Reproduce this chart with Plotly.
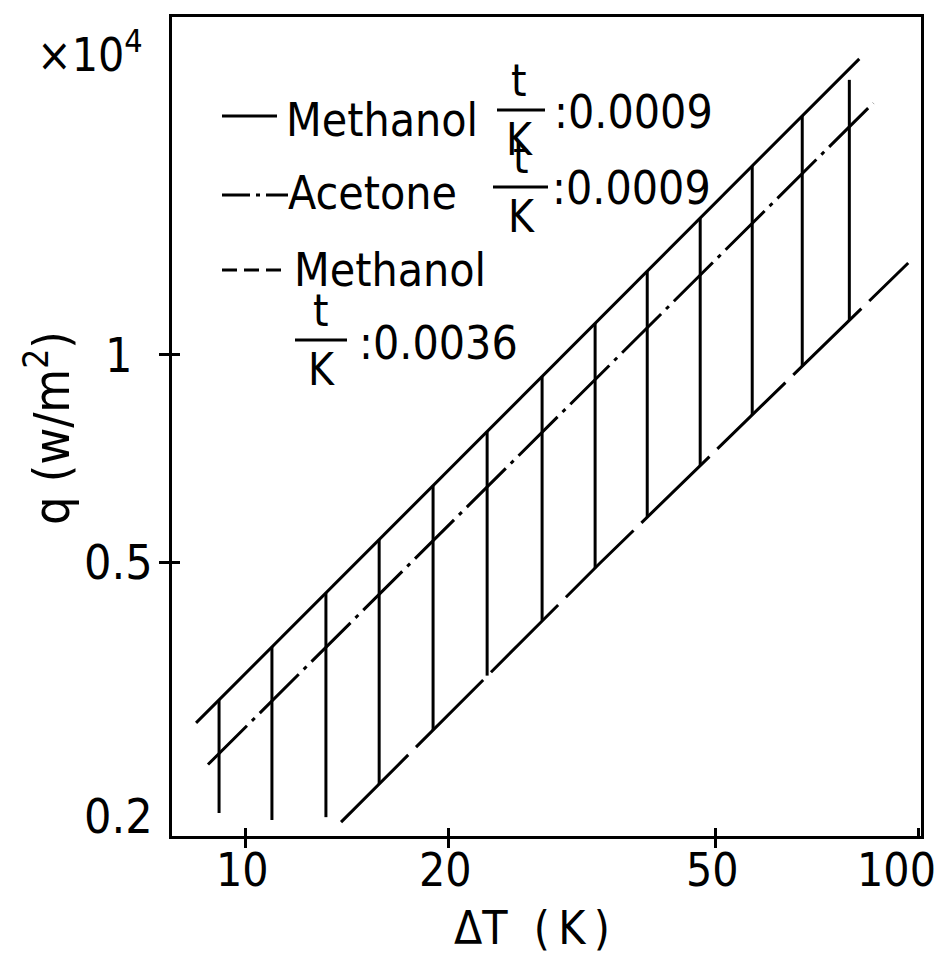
import math
import plotly.graph_objects as go

# Boiling curves, q (x10^4 W/m^2) against wall superheat dT (K)
methanol_thin_dT = [8.43, 81.7]          # Methanol, t/K = 0.0009
methanol_thin_q = [0.292, 2.693]
acetone_dT = [8.78, 85.7]                # Acetone, t/K = 0.0009
acetone_q = [0.254, 2.323]
methanol_thick_dT = [13.85, 33.6, 96.6]  # Methanol, t/K = 0.0036
methanol_thick_q = [0.2095, 0.498, 1.360]

# vertical connectors between the curves
tie_dT = [9.12, 10.93, 13.15, 15.78, 18.98, 22.84, 27.57, 33.06, 39.52,
          47.38, 56.62, 67.2, 78.96]
tie_q_top = [0.315, 0.3765, 0.451, 0.539, 0.646, 0.774, 0.931, 1.112,
             1.323, 1.580, 1.882, 2.225, 2.510]
tie_q_bottom = [0.216, 0.211, 0.213, 0.238, 0.285, 0.342, 0.411, 0.490,
                0.581, 0.691, 0.818, 0.963, 1.122]

x_ticks = [10, 20, 50, 100]
x_tick_text = ["10", "20", "50", "100"]
x_marks = [10, 20, 50]
y_ticks = [0.2, 0.5, 1]
y_tick_text = ["0.2", "0.5", "1"]
y_marks = [0.5, 1]

W, H = 947, 957
ML, MR, MT, MB = 172, 26, 17, 121
PW, PH = W - ML - MR, H - MT - MB

FONT = "DejaVu Sans Condensed, Liberation Sans Narrow, DejaVu Sans, sans-serif"
INK = "black"
LW = 3

SOLID = "solid"
DASHDOT = "55px,7px,4px,7px"
DASHED = "95px,11px"


def px(x):
    return (x - ML) / PW


def py(y):
    return (H - MB - y) / PH


fig = go.Figure()

fig.add_trace(go.Scatter(x=methanol_thin_dT, y=methanol_thin_q, mode="lines",
                         line=dict(color=INK, width=LW, dash=SOLID),
                         showlegend=False, hoverinfo="skip"))
fig.add_trace(go.Scatter(x=acetone_dT, y=acetone_q, mode="lines",
                         line=dict(color=INK, width=LW, dash=DASHDOT),
                         showlegend=False, hoverinfo="skip"))
fig.add_trace(go.Scatter(x=methanol_thick_dT, y=methanol_thick_q, mode="lines",
                         line=dict(color=INK, width=LW, dash=DASHED),
                         showlegend=False, hoverinfo="skip"))

tx, ty = [], []
for xv, top, bot in zip(tie_dT, tie_q_top, tie_q_bottom):
    tx += [xv, xv, None]
    ty += [top, bot, None]
fig.add_trace(go.Scatter(x=tx, y=ty, mode="lines",
                         line=dict(color=INK, width=LW),
                         showlegend=False, hoverinfo="skip"))

annotations = []
shapes = []


def text(s, x, y, size=46, xanchor="left", yanchor="middle", angle=0):
    annotations.append(dict(text=s, x=px(x), y=py(y), xref="paper", yref="paper",
                            xanchor=xanchor, yanchor=yanchor, showarrow=False,
                            textangle=angle, borderpad=0,
                            font=dict(family=FONT, size=size, color=INK)))


def hline(x0, x1, y, dash="solid"):
    shapes.append(dict(type="line", xref="paper", yref="paper",
                       x0=px(x0), x1=px(x1), y0=py(y), y1=py(y),
                       line=dict(color=INK, width=LW, dash=dash)))


def fraction(xc, ybar, x0, x1, size=44):
    text("t", xc, ybar - 3, size=size, xanchor="center", yanchor="bottom")
    hline(x0, x1, ybar)
    text("K", xc, ybar + 3, size=size, xanchor="center", yanchor="top")


# key
hline(222, 277, 116)
text("Methanol", 285, 120)
fraction(519, 110, 497, 545)
text(":0.0009", 553, 112)

hline(222, 288, 195, dash="28px,6px,4px,6px")
text("Acetone", 287, 193)
fraction(521, 187, 493, 548)
text(":0.0009", 551, 188)

hline(222, 288, 270, dash="15px,7px")
text("Methanol", 293, 270)

fraction(321, 340, 295, 347)
text(":0.0036", 358, 343)

# x tick labels: the last one sits at the right frame, so it is right-aligned
x_label_font = dict(family=FONT, size=46, color=INK)
for v, s in zip(x_ticks, x_tick_text):
    last = v == max(x_ticks)
    annotations.append(dict(text=s, x=math.log10(v), y=py(870), xref="x", yref="paper",
                            xanchor="right" if last else "center", yanchor="middle",
                            xshift=19 if last else -3, showarrow=False, borderpad=0,
                            font=x_label_font))

# y tick labels, centred under one another
for v, s in zip(y_ticks, y_tick_text):
    dy = 20 if v == min(y_ticks) else 0
    annotations.append(dict(text=s, x=px(118), y=math.log10(v), xref="paper", yref="y",
                            xanchor="center", yanchor="middle", yshift=dy, showarrow=False,
                            font=dict(family=FONT, size=48, color=INK)))

# axis titles and multiplier
text("q (w/m<sup>2</sup>)", 48, 428, size=50, xanchor="center", angle=-90)
text("ΔT\u00a0\u00a0(\u2009K\u2009)", 532, 928, size=46, xanchor="center")
text("×10<sup>4</sup>", 90, 52, size=46, xanchor="center")

axis_common = dict(type="log", showline=True, linewidth=LW, linecolor=INK, mirror=True,
                   showgrid=False, zeroline=False, automargin=False,
                   showticklabels=False, tickmode="array",
                   ticks="inside", ticklen=8, tickwidth=LW, tickcolor=INK)

fig.update_layout(
    template="none",
    width=W, height=H, autosize=False,
    margin=dict(l=ML, r=MR, t=MT, b=MB, pad=0),
    paper_bgcolor="white", plot_bgcolor="white",
    font=dict(family=FONT, color=INK),
    xaxis=dict(axis_common, range=[0.890, 2.004], tickvals=x_ticks,
               minor=dict(tickmode="array", tickvals=x_marks, ticks="outside",
                          ticklen=9, tickwidth=LW, tickcolor=INK, showgrid=False)),
    yaxis=dict(axis_common, range=[-0.699, 0.491], tickvals=y_ticks,
               minor=dict(tickmode="array", tickvals=y_marks, ticks="outside",
                          ticklen=10, tickwidth=LW, tickcolor=INK, showgrid=False)),
    annotations=annotations,
    shapes=shapes,
)

fig.write_html("out.html")
